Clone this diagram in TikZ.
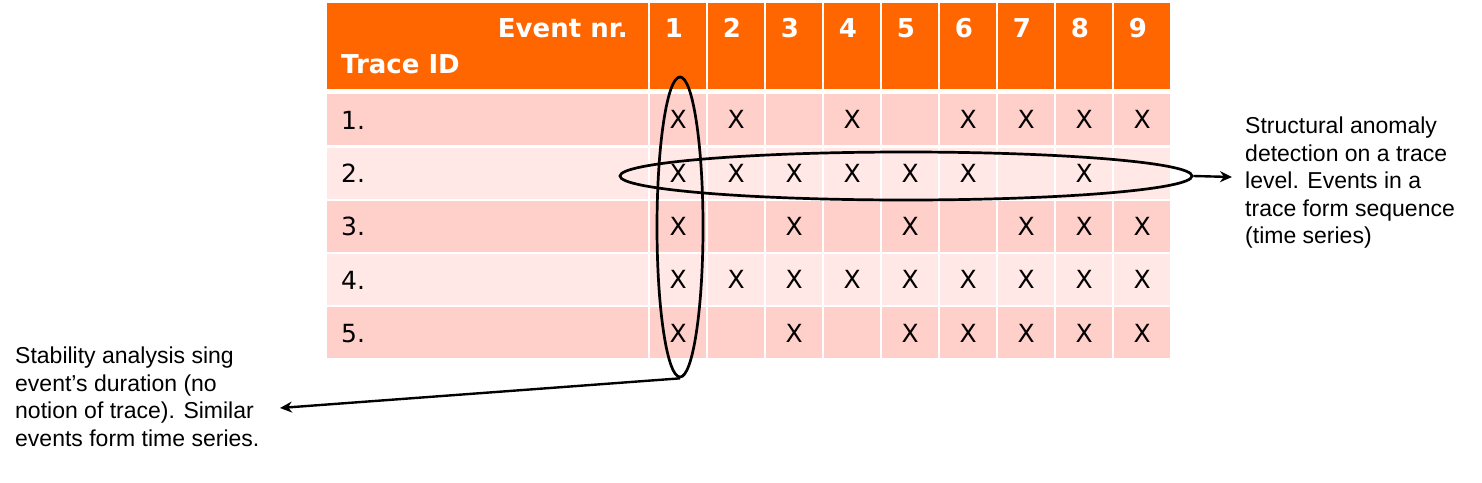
\documentclass[tikz,border=0pt]{standalone}
\usepackage{fontspec}
\setmainfont{Liberation Sans}
\newfontfamily\tablefont{DejaVu Sans}
\usepackage{tikz}
\usetikzlibrary{arrows.meta}
\usetikzlibrary{shapes.geometric}
\usetikzlibrary{positioning}
\usepackage{xcolor}

\definecolor{headorange}{RGB}{255,102,0}
\definecolor{rowdark}{RGB}{255,208,202}
\definecolor{rowlight}{RGB}{255,232,229}

\tikzset{
  cell/.style={draw=none, inner sep=0pt, anchor=north west},
  headtxt/.style={text=white, inner sep=0pt, font=\tablefont\bfseries\fontsize{26}{30}\selectfont},
  rowtxt/.style={inner sep=0pt, font=\tablefont\fontsize{25}{28}\selectfont},
  xmark/.style={inner sep=0pt, font=\tablefont\fontsize{25}{28}\selectfont},
  loop/.style={draw, ellipse, line width=2.7pt, inner sep=0pt},
  note/.style={inner sep=0pt, align=left, font=\fontsize{23}{27.5}\selectfont},
  arr/.style={line width=2.4pt, -{Stealth[length=12pt,width=11pt]}}
}

\begin{document}
\begin{tikzpicture}[x=1pt,y=-1pt]
  \useasboundingbox (0,0) rectangle (1482,482);

  % header
  \node[cell, fill=headorange, minimum width=321pt, minimum height=86pt] (h0) at (327,3) {};
  \node[headtxt, anchor=base east] (evnr) at (628,37) {Event nr.};
  \node[headtxt, anchor=base west] (trid) at (341,73) {Trace ID};
  \foreach \k in {1,...,9} {
    \node[cell, fill=headorange, minimum width=56pt, minimum height=86pt] (h\k) at ({650+58*(\k-1)},3) {};
    \node[headtxt, anchor=base] (n\k) at ({674+58*(\k-1)},37) {\k};
  }

  % rows
  \foreach \r/\fc in {1/rowdark,2/rowlight,3/rowdark,4/rowlight,5/rowdark} {
    \node[cell, fill=\fc, minimum width=321pt, minimum height=51pt] (r\r) at (327,{94+53.3*(\r-1)}) {};
    \node[rowtxt, anchor=west] (t\r) at (341,{120+53.3*(\r-1)}) {\r.};
    \foreach \k in {1,...,9}
      \node[cell, fill=\fc, minimum width=56pt, minimum height=51pt] (c\r\k) at ({650+58*(\k-1)},{94+53.3*(\r-1)}) {};
  }

  % the X entries
  \foreach \r/\ks in {1/{1,2,4,6,7,8,9},2/{1,2,3,4,5,6,8},3/{1,3,5,7,8,9},4/{1,2,3,4,5,6,7,8,9},5/{1,3,5,6,7,8,9}}
    \foreach \k in \ks
      \node[xmark] (x\r\k) at (c\r\k.center) {X};

  % groupings
  \node[loop, minimum width=46pt, minimum height=300pt] (colone) at (680,227) {};
  \node[loop, minimum width=572pt, minimum height=48pt] (rowtwo) at (906,176) {};

  % notes
  \node[note, anchor=north west] (rnote) at (1245,117) {Structural anomaly\\detection on a trace\\level. Events in a\\trace form sequence\\(time series)};
  \node[note, anchor=north west] (lnote) at (15,347) {Stability analysis sing\\event’s duration (no\\notion of trace). Similar\\events form time series.};

  \coordinate (rtip) at (1232,177);
  \coordinate (ltip) at (280,408);
  \draw[arr] (rowtwo.east) -- (rtip);
  \draw[arr] (colone.south) -- (ltip);
\end{tikzpicture}
\end{document}
